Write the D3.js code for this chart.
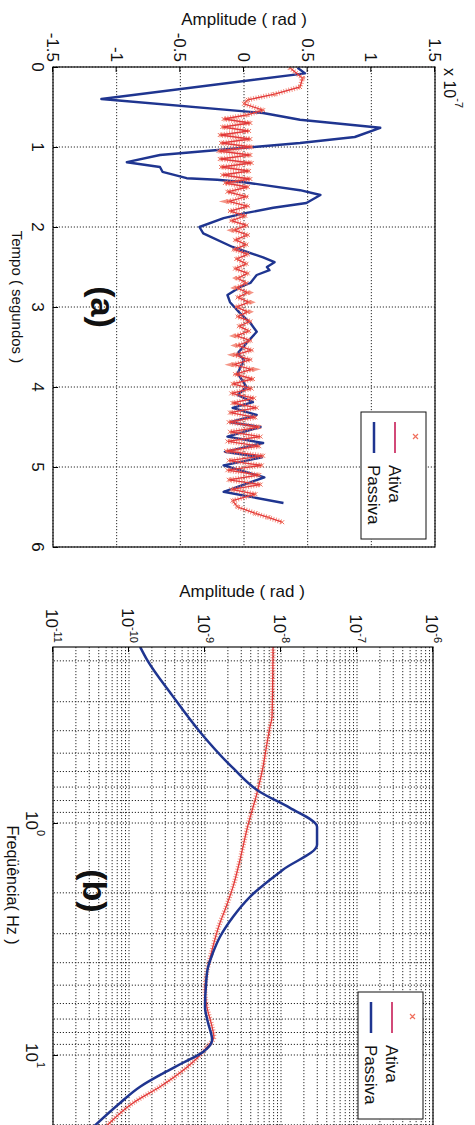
<!DOCTYPE html>
<html>
<head>
<meta charset="utf-8">
<script src="https://cdn.jsdelivr.net/npm/d3@7"></script>
<style>
body { margin: 0; background: #fff; }
text { font-family: "Liberation Sans", Arial, sans-serif; fill: #111; }
</style>
</head>
<body>
<div id="plot"></div>
<script>
// (a) time response, amplitude in units of 1e-7 rad
tempoPassiva = [0.01, 0.08, 0.40, 0.575, 0.66, 0.76, 0.875, 0.95, 1.01, 1.10, 1.19, 1.25, 1.31, 1.39, 1.41, 1.44,
  1.54, 1.60, 1.70, 1.76, 1.83, 1.89, 2.0, 2.08, 2.25, 2.38, 2.44, 2.5, 2.54, 2.6, 2.7, 2.75, 2.85, 2.94,
  3.08, 3.2, 3.31, 3.45, 3.58, 3.66, 3.83, 4.0, 4.1, 4.19, 4.26, 4.35, 4.44, 4.5, 4.62, 4.7, 4.81, 4.88,
  4.98, 5.13, 5.31, 5.45]
ampPassiva = [0.42, 0.48, -1.12, 0.15, 0.44, 1.07, 0.87, 0.44, 0.0, -0.66, -0.92, -0.66, -0.64, -0.45, -0.21, 0.0,
  0.44, 0.60, 0.49, 0.23, 0.0, -0.16, -0.35, -0.32, -0.09, 0.15, 0.24, 0.18, 0.20, 0.10, 0.05, -0.03, -0.13, -0.11,
  -0.03, 0.05, 0.10, 0.02, -0.05, 0.0, -0.05, 0.02, -0.05, 0.07, -0.09, 0.10, -0.11, 0.13, -0.13, 0.15, -0.15, 0.14,
  -0.16, 0.16, -0.16, 0.31]

tempoAtiva = [0.01, 0.14, 0.25, 0.34, 0.41, 0.46, 0.54, 0.60,
  0.65, 0.70, 0.75, 0.80, 0.85, 0.90, 0.95, 1.00, 1.05, 1.10, 1.15, 1.20, 1.25, 1.30, 1.35, 1.40, 1.45, 1.50,
  1.56, 1.62, 1.68, 1.74, 1.80, 1.86, 1.92, 1.98, 2.04, 2.10, 2.16, 2.22, 2.28, 2.34, 2.40, 2.46, 2.52, 2.58,
  2.64, 2.70, 2.76, 2.82, 2.88, 2.94, 3.00, 3.06, 3.12, 3.18, 3.24, 3.30, 3.36, 3.42, 3.48, 3.54, 3.60, 3.66,
  3.72, 3.78, 3.84, 3.90, 3.96, 4.02, 4.08, 4.14, 4.20, 4.26, 4.32, 4.38, 4.44, 4.50, 4.56, 4.62, 4.68, 4.74,
  4.80, 4.86, 4.92, 4.98, 5.04, 5.10, 5.16, 5.22, 5.28, 5.34, 5.42, 5.50, 5.58, 5.63, 5.69]
ampAtiva = [0.36, 0.46, 0.44, 0.24, 0.03, 0.0, 0.15, 0.02,
  -0.16, 0.05, -0.17, 0.04, -0.19, 0.05, -0.18, 0.06, -0.20, 0.05, -0.19, 0.06, -0.18, 0.04, -0.17, 0.05, -0.15, 0.03,
  -0.13, 0.02, -0.12, 0.03, -0.11, 0.01, -0.10, 0.02, -0.08, 0.03, -0.07, 0.02, -0.08, 0.03, -0.06, 0.02, -0.07, 0.03,
  -0.05, 0.02, -0.06, 0.03, -0.05, 0.04, -0.06, 0.03, -0.05, 0.05, -0.04, 0.04, -0.06, 0.05, -0.05, 0.06, -0.07, 0.05,
  -0.08, 0.06, -0.07, 0.07, -0.09, 0.06, -0.10, 0.08, -0.09, 0.10, -0.11, 0.09, -0.12, 0.12, -0.11, 0.13, -0.13, 0.12,
  -0.14, 0.15, -0.12, 0.14, -0.13, 0.12, -0.12, 0.13, -0.10, 0.09, -0.09, -0.05, 0.09, 0.19, 0.30]

// (b) spectra
freqPassiva = [0.174, 0.198, 0.281, 0.405, 0.579, 0.735, 0.861, 1.04, 1.24, 1.59, 2.08, 2.54, 3.10, 3.63, 4.22,
  4.99, 6.21, 7.21, 8.61, 9.70, 10.8, 12.0, 13.7, 16.1, 20.6]
specPassiva = [1.40e-10, 1.73e-10, 3.68e-10, 8.59e-10, 2.33e-9, 5.3e-9, 1.31e-8, 2.98e-8, 2.98e-8, 1.06e-8, 3.91e-9,
  2.33e-9, 1.57e-9, 1.27e-9, 1.09e-9, 1.03e-9, 1.0e-9, 1.09e-9, 1.24e-9, 9.4e-10, 5.14e-10, 2.80e-10, 1.40e-10,
  7.62e-11, 3.3e-11]
freqAtiva = [0.174, 0.349, 0.385, 0.452, 0.574, 0.743, 1.02, 1.44, 1.89, 2.37, 2.70, 3.52, 4.18, 5.25, 6.21, 7.57,
  8.36, 9.25, 11.3, 13.7, 16.1, 20.6]
specAtiva = [7.85e-9, 7.62e-9, 7.16e-9, 6.55e-9, 5.79e-9, 4.83e-9, 3.68e-9, 2.89e-9, 2.33e-9, 1.83e-9, 1.57e-9,
  1.24e-9, 1.09e-9, 1.0e-9, 1.06e-9, 1.24e-9, 1.31e-9, 1.06e-9, 5.79e-10, 2.56e-10, 1.13e-10, 4.8e-11]

tempoTicks = [0, 1, 2, 3, 4, 5, 6]
ampTicks = [-1.5, -1, -0.5, 0, 0.5, 1, 1.5]
ampTickLabels = ["-1.5", "-1", "-0.5", "0", "0.5", "1", "1.5"]
specTicks = [1e-11, 1e-10, 1e-9, 1e-8, 1e-7, 1e-6]
specTickExp = ["-11", "-10", "-9", "-8", "-7", "-6"]
freqTicks = [1, 10]
freqTickExp = ["0", "1"]
seriesNames = ["Ativa", "Passiva"]

blue = "#1f3590"
red = "#e2383a"
redMark = "#f0705e"

svg = d3.select("#plot").append("svg").attr("width", 475).attr("height", 1125)
  .attr("viewBox", [0, 0, 475, 1125]).style("display", "block")

// the whole figure is drawn upright and then turned a quarter clockwise
fig = svg.append("g").attr("transform", "translate(475,0) rotate(90)")

function gridLine(g, x1, y1, x2, y2) {
  g.append("line").attr("x1", x1).attr("y1", y1).attr("x2", x2).attr("y2", y2)
    .attr("stroke", "#2a2a2a").attr("stroke-width", 1).attr("stroke-dasharray", "1.2,1.8")
}

function legend(g, lx, ly) {
  g.append("rect").attr("x", lx).attr("y", ly).attr("width", 127).attr("height", 65)
    .attr("fill", "#fff").attr("stroke", "#111")
  g.append("path").attr("d", `M${lx + 22},${ly + 8}l5,5m0,-5l-5,5`).attr("stroke", redMark).attr("stroke-width", 1.2)
  g.append("line").attr("x1", lx + 10).attr("x2", lx + 41).attr("y1", ly + 31).attr("y2", ly + 31)
    .attr("stroke", "#d24a78").attr("stroke-width", 2)
  g.append("line").attr("x1", lx + 10).attr("x2", lx + 41).attr("y1", ly + 52).attr("y2", ly + 52)
    .attr("stroke", blue).attr("stroke-width", 2.5)
  g.selectAll("text.leg").data(seriesNames).join("text").attr("class", "leg")
    .attr("x", lx + 53).attr("y", (d, i) => ly + 37 + i * 21).attr("font-size", 17).text(d => d)
}

function redFuzz(g, pathD) {
  // dense x-markers of the Ativa series give it a fuzzy look
  g.append("path").attr("d", pathD).attr("fill", "none").attr("stroke", redMark)
    .attr("stroke-width", 5).attr("stroke-dasharray", "1,1.6").attr("opacity", 0.75)
  g.append("path").attr("d", pathD).attr("fill", "none").attr("stroke", red).attr("stroke-width", 1.3)
}

// ---------------- (a) ----------------
xA = d3.scaleLinear().domain([0, 6]).range([67, 547])
yA = d3.scaleLinear().domain([-1.5, 1.5]).range([422, 40])
pa = fig.append("g")
pa.append("rect").attr("x", 67).attr("y", 40).attr("width", 480).attr("height", 382).attr("fill", "#fff")
tempoTicks.forEach(t => gridLine(pa, xA(t), 40, xA(t), 422))
ampTicks.forEach(v => gridLine(pa, 67, yA(v), 547, yA(v)))

pa.append("clipPath").attr("id", "clipA").append("rect").attr("x", 67).attr("y", 40).attr("width", 480).attr("height", 382)
ca = pa.append("g").attr("clip-path", "url(#clipA)")
lineA = d3.line().x(d => xA(d[0])).y(d => yA(d[1]))
atA = d3.zip(tempoAtiva, ampAtiva)
ca.append("path").attr("d", lineA(d3.zip(tempoPassiva, ampPassiva))).attr("fill", "none")
  .attr("stroke", blue).attr("stroke-width", 2.4).attr("stroke-linejoin", "round")
redFuzz(ca, lineA(atA))
ca.selectAll("path.mk").data(atA).join("path").attr("class", "mk")
  .attr("d", d => `M${xA(d[0]) - 2},${yA(d[1]) - 2}l4,4m0,-4l-4,4`).attr("stroke", redMark).attr("stroke-width", 1)

pa.append("rect").attr("x", 67).attr("y", 40).attr("width", 480).attr("height", 382)
  .attr("fill", "none").attr("stroke", "#111").attr("stroke-width", 1.2)
pa.append("g").attr("transform", "translate(0,422)").call(d3.axisBottom(xA).tickValues(tempoTicks).tickSize(-5).tickFormat(""))
  .call(g => g.select(".domain").remove())
pa.append("g").attr("transform", "translate(67,0)").call(d3.axisLeft(yA).tickValues(ampTicks).tickSize(-5).tickFormat(""))
  .call(g => g.select(".domain").remove())

pa.selectAll("text.tx").data(tempoTicks).join("text").attr("class", "tx")
  .attr("x", d => xA(d)).attr("y", 443).attr("text-anchor", "middle").attr("font-size", 17).text(d => d)
pa.selectAll("text.ty").data(ampTicks).join("text").attr("class", "ty")
  .attr("x", 62).attr("y", d => yA(d) + 6).attr("text-anchor", "end").attr("font-size", 17)
  .text((d, i) => ampTickLabels[i])
xe = pa.append("text").attr("x", 68).attr("y", 31).attr("font-size", 16).text("x 10")
xe.append("tspan").attr("dy", -11).attr("font-size", 11).text("-7")
pa.append("text").attr("transform", "translate(25,231) rotate(-90)").attr("text-anchor", "middle")
  .attr("font-size", 17).text("Amplitude ( rad )")
pa.append("text").attr("x", 297).attr("y", 463).attr("text-anchor", "middle").attr("font-size", 15)
  .text("Tempo ( segundos )")
pa.append("text").attr("x", 307).attr("y", 384).attr("text-anchor", "middle").attr("font-size", 34)
  .attr("font-weight", "bold").text("(a)")
legend(pa, 412, 49)

// ---------------- (b) ----------------
xB = d3.scaleLog().domain([0.1743, 20.64]).range([647, 1128])
yB = d3.scaleLog().domain([1e-11, 1e-6]).range([422, 42])
pb = fig.append("g")
pb.append("rect").attr("x", 647).attr("y", 42).attr("width", 481).attr("height", 380).attr("fill", "#fff")
xB.ticks().forEach(f => gridLine(pb, xB(f), 42, xB(f), 422))
yB.ticks().forEach(v => gridLine(pb, 647, yB(v), 1128, yB(v)))

pb.append("clipPath").attr("id", "clipB").append("rect").attr("x", 647).attr("y", 42).attr("width", 481).attr("height", 380)
cb = pb.append("g").attr("clip-path", "url(#clipB)")
lineB = d3.line().x(d => xB(d[0])).y(d => yB(d[1])).curve(d3.curveMonotoneX)
redFuzz(cb, lineB(d3.zip(freqAtiva, specAtiva)))
cb.append("path").attr("d", lineB(d3.zip(freqPassiva, specPassiva))).attr("fill", "none")
  .attr("stroke", blue).attr("stroke-width", 2.5).attr("stroke-linejoin", "round")

pb.append("rect").attr("x", 647).attr("y", 42).attr("width", 481).attr("height", 380)
  .attr("fill", "none").attr("stroke", "#111").attr("stroke-width", 1.2)
pb.append("g").attr("transform", "translate(0,422)").call(d3.axisBottom(xB).tickValues(freqTicks).tickSize(-5).tickFormat(""))
  .call(g => g.select(".domain").remove())
pb.append("g").attr("transform", "translate(647,0)").call(d3.axisLeft(yB).tickValues(specTicks).tickSize(-5).tickFormat(""))
  .call(g => g.select(".domain").remove())

fx = pb.selectAll("text.fx").data(freqTicks).join("text").attr("class", "fx")
  .attr("x", d => xB(d) - 12).attr("y", 449).attr("font-size", 17).text("10")
fx.append("tspan").attr("dy", -11).attr("font-size", 11).text((d, i) => freqTickExp[i])
fy = pb.selectAll("text.fy").data(specTicks).join("text").attr("class", "fy")
  .attr("x", 643).attr("y", d => yB(d) + 7).attr("text-anchor", "end").attr("font-size", 17).text("10")
fy.append("tspan").attr("dy", -8).attr("font-size", 11).text((d, i) => specTickExp[i])
pb.append("text").attr("transform", "translate(597,233) rotate(-90)").attr("text-anchor", "middle")
  .attr("font-size", 17).text("Amplitude ( rad )")
pb.append("text").attr("x", 885).attr("y", 468).attr("text-anchor", "middle").attr("font-size", 16)
  .text("Freqüência( Hz )")
pb.append("text").attr("x", 891).attr("y", 392).attr("text-anchor", "middle").attr("font-size", 34)
  .attr("font-weight", "bold").text("(b)")
legend(pb, 992, 52)
</script>
</body>
</html>
